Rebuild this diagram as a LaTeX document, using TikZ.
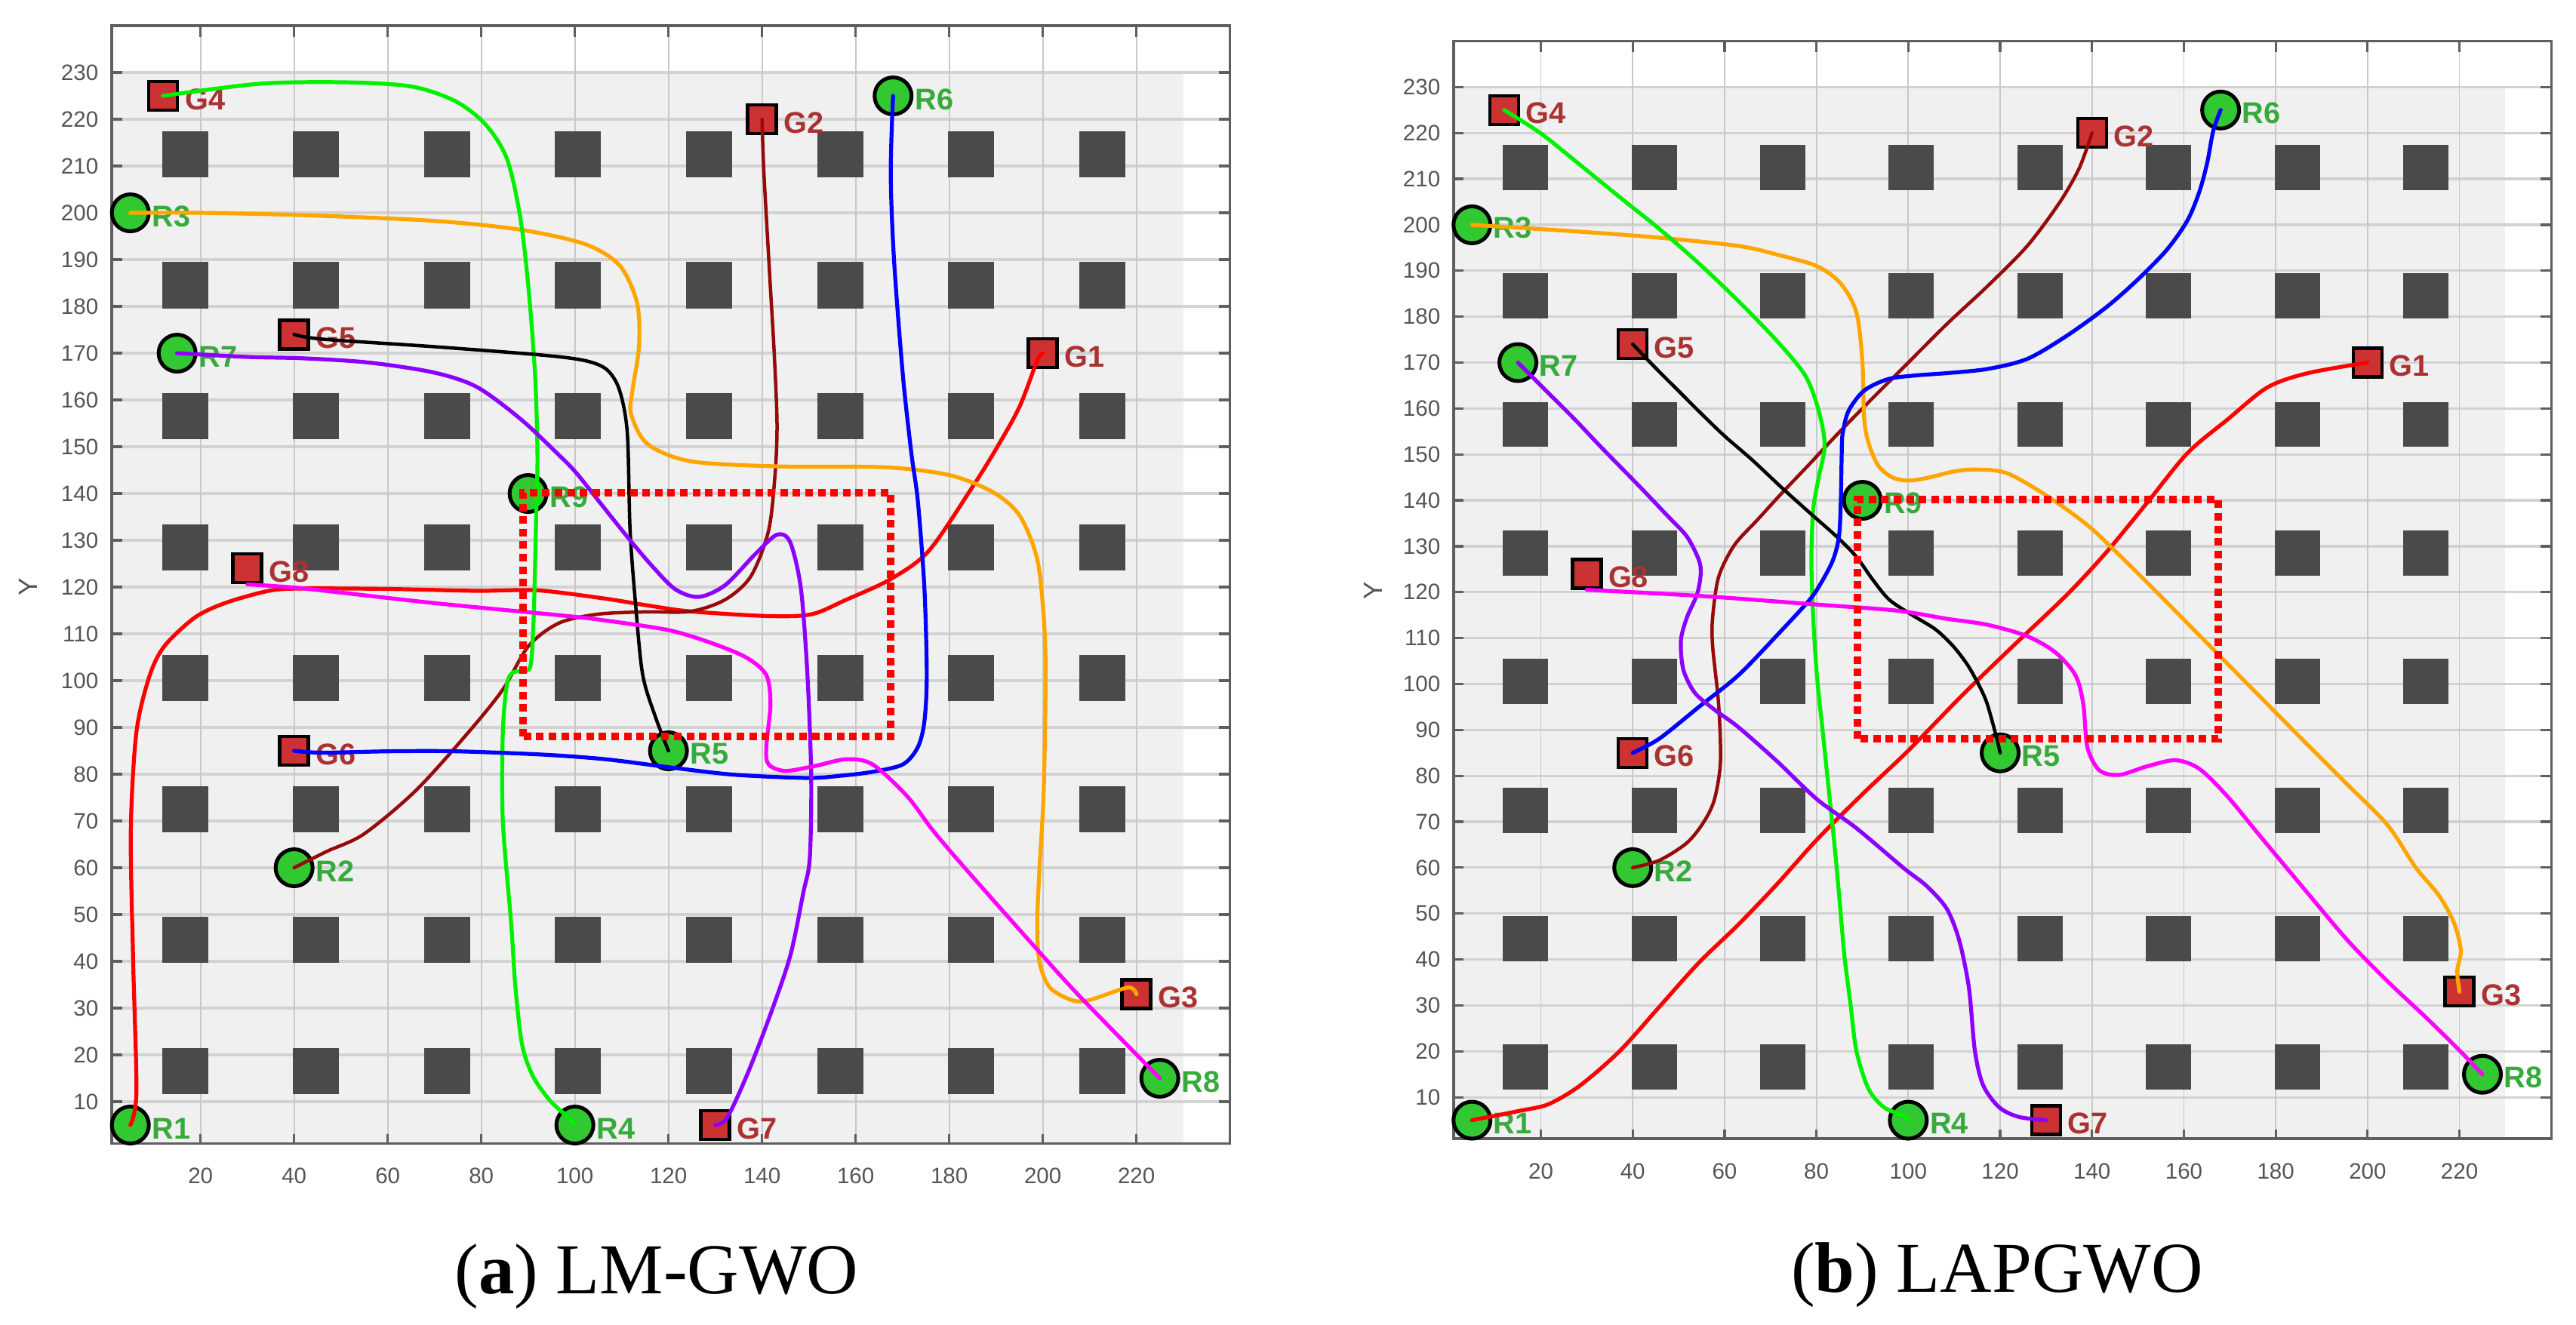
\documentclass[tikz,border=0pt]{standalone}
\usepackage{fontspec}
\setmainfont{Liberation Serif}
\newfontfamily\arialf{Liberation Sans}
\definecolor{rfill}{RGB}{50,200,50}
\definecolor{gfill}{RGB}{205,50,50}
\definecolor{rtext}{RGB}{55,170,60}
\definecolor{gtext}{RGB}{170,50,50}
\definecolor{obstc}{RGB}{74,74,74}
\definecolor{bgc}{RGB}{240,240,240}
\definecolor{gridc}{RGB}{210,210,210}
\definecolor{gridvc}{RGB}{200,200,200}
\definecolor{axc}{RGB}{95,95,95}
\definecolor{tickc}{RGB}{85,85,85}
\definecolor{corange}{RGB}{255,165,0}
\definecolor{cgreen}{RGB}{0,240,0}
\definecolor{cmaroon}{RGB}{150,10,10}
\definecolor{cpurple}{RGB}{140,0,255}
\definecolor{cmagenta}{RGB}{255,0,255}
\newcommand\plotbase[1]{%
  \fill[bgc] (1,1) rectangle (230,230);
  \foreach \yy in {10,20,...,230} \draw[gridh] (1,\yy) -- (240,\yy);
  \foreach \xx in {20,40,...,220} \draw[gridv] (\xx,1) -- (\xx,240);
  \foreach \i in {0,...,7} \foreach \j in {0,...,7}
    \fill[obst] ({11.75+28*\i},{11.6+28*\j}) rectangle ++(9.85,9.85);
  \foreach \yy in {10,20,...,230} {
    \draw[axisline] (1,\yy) -- (3.2,\yy);
    \draw[axisline] (240,\yy) -- (237.6,\yy);
    \node[ticklab, anchor=east] at ([xshift=-0.17cm]1,\yy) {\yy};
  }
  \foreach \xx in {20,40,...,220} {
    \draw[axisline] (\xx,1) -- (\xx,3.0);
    \draw[axisline] (\xx,240) -- (\xx,237.6);
    \node[ticklab] at ([yshift=-0.43cm]\xx,1) {\xx};
  }
  \draw[axisline] (1,1) rectangle (240,240);
  \foreach \n/\x/\y in {1/5/5,2/40/60,3/5/200,4/100/5,5/120/85,6/168/225,7/15/170,8/225/15,9/90/140} {
    \node[robot] (#1R\n) at (\x,\y) {};
    \node[rlab] (#1RL\n) at ({\x+4.6},{\y-0.7}) {R\n};
  }
  \foreach \n/\x/\y in {1/200/170,2/140/220,3/220/33,4/12/225,5/40/174,6/40/85,7/130/5,8/30/124} {
    \node[goal] (#1G\n) at (\x,\y) {};
    \node[glab] (#1GL\n) at ({\x+4.6},{\y-0.7}) {G\n};
  }
}
\begin{document}
\begin{tikzpicture}[
  robot/.style={circle, draw=black, line width=0.05cm, fill=rfill, minimum size=0.49cm, inner sep=0pt},
  goal/.style={rectangle, draw=black, line width=0.045cm, fill=gfill, minimum size=0.38cm, inner sep=0pt},
  rlab/.style={text=rtext, font=\arialf\bfseries\fontsize{11.3}{13}\selectfont, inner sep=0pt, anchor=west},
  glab/.style={text=gtext, font=\arialf\bfseries\fontsize{11.3}{13}\selectfont, inner sep=0pt, anchor=west},
  obst/.style={fill=obstc},
  gridh/.style={draw=gridc, line width=0.032cm},
  gridv/.style={draw=gridvc, line width=0.018cm},
  axisline/.style={draw=axc, line width=0.032cm},
  ticklab/.style={text=tickc, font=\arialf\fontsize{8.4}{10}\selectfont, inner sep=0pt},
  trail/.style={line width=0.052cm, line cap=round, line join=round},
  thintrail/.style={line width=0.045cm, line cap=round, line join=round},
  zone/.style={draw=red, line width=0.1cm, dash pattern=on 0.1cm off 0.066cm},
  capt/.style={font=\fontsize{27}{32}\selectfont, inner sep=0pt, anchor=base},
  axlab/.style={text=tickc, font=\arialf\fontsize{10}{12}\selectfont, inner sep=0pt, rotate=90},
]
\fill[white] (0,0) rectangle (34.13,17.55);
\useasboundingbox (0,0) rectangle (34.13,17.55);

% ---------------- plot (a)
\begin{scope}[shift={(1.417cm,2.33cm)}, x=0.062cm, y=0.062cm]
\plotbase{a}
\draw[trail, red] plot[smooth, tension=0.5] coordinates {(aR1.center) (6.3,12) (5.6,40) (5.1,68) (6.3,89) (9.1,101) (12.3,107.4) (18.8,113.5) (25.3,116.6) (34.6,119.2) (42,119.7) (60,119.6) (79,119.2) (92,119.3) (106,117.6) (116,116) (124.7,114.8) (141.4,113.8) (150.6,114.2) (158,117.3) (167.3,121.6) (175.6,127.7) (184.9,141.3) (190,149.5) (195,158.5) (198.8,168.4) (aG1.center)};
\draw[thintrail, cmaroon] plot[smooth, tension=0.5] coordinates {(aR2.center) (47,63.5) (54.9,67.2) (66,76.5) (77.2,88.9) (84.6,98.1) (90.1,107.4) (96.6,112.3) (104.9,114.2) (115,114.7) (124.7,114.8) (132.1,117.3) (137.6,122.3) (141.4,132.1) (142.8,144.4) (143.2,155) (142.6,170) (141.8,183.8) (140.4,208.5) (aG2.center)};
\draw[trail, corange] plot[smooth, tension=0.5] coordinates {(aR3.center) (20,200) (42,199.5) (69.7,198.3) (88.3,196.4) (102.2,193.3) (109.6,188.7) (113.3,180.7) (113.7,171.4) (112.3,162) (112,157) (115.5,150.6) (124.7,146.9) (143.2,145.8) (166.4,145.6) (180.2,143.9) (189.5,140.2) (195.1,135.2) (198.8,126) (200.2,113.5) (200.6,101.2) (200.2,76.5) (199.3,60) (198.8,47.9) (199.3,39.8) (201.5,34.4) (206.2,31.7) (209.9,31.7) (218.2,34.4) (aG3.center)};
\draw[trail, cgreen] plot[smooth, tension=0.5] coordinates {(aG4.center) (32.7,227.6) (51.2,227.9) (65.1,227) (74.4,223.9) (80.9,218.9) (85.5,211.5) (88.3,199.2) (90.1,183.8) (91.5,165.2) (92,148.7) (91.8,138.3) (91.2,113.5) (90.6,103.7) (89.6,102.1) (86.9,101.8) (85.5,99.3) (84.6,88.9) (84.6,70) (86.4,47.9) (87.3,34.4) (88.7,22.3) (91,15.5) (94.7,10.2) (98.4,6.8) (aR4.center)};
\draw[thintrail, black] plot[smooth, tension=0.5] coordinates {(aG5.center) (46,173) (69.7,171.4) (92.9,169.6) (102.2,168.4) (106.8,166.5) (109.5,162.2) (111.2,153) (111.8,132.1) (113,116) (114.5,101.2) (117.3,92) (aR5.center)};
\draw[trail, blue] plot[smooth, tension=0.5] coordinates {(aR6.center) (167.5,208.5) (168.2,190) (170.1,165.2) (171.9,148.7) (173.3,138.3) (174.7,119.7) (175.2,101.2) (174.7,91.3) (173.3,85.8) (170.1,82.1) (163.6,80.5) (157.1,79.7) (149.7,79.2) (133.9,79.9) (120,81.5) (106.5,83.2) (92.9,84.2) (74.4,84.9) (60.5,84.9) (46,84.6) (aG6.center)};
\draw[trail, cpurple] plot[smooth, tension=0.5] coordinates {(aR7.center) (30,169.2) (42,168.9) (55.9,168) (69.7,165.9) (79,162.8) (88.3,156) (96.1,148.7) (100.3,144.4) (106.2,137) (111.4,130.5) (116.5,124.5) (121.5,119.5) (126.5,117.9) (132.1,120.4) (138.6,127.1) (143.2,131.2) (146,129.6) (148.3,119.7) (149.7,101.2) (150.5,79.6) (150.2,62) (148.8,54.6) (146,41.1) (141.4,27.6) (136.7,15.5) (132.5,6.5) (aG7.center)};
\draw[trail, cmagenta] plot[smooth, tension=0.5] coordinates {(aG8.south) (42,119.7) (69.7,116.6) (97.5,113.9) (106.2,112.9) (120,110.8) (129.3,108) (136.7,104.9) (140.9,101.2) (141.8,95) (140.9,85.8) (141.4,82.1) (145,80.7) (151.5,81.8) (158,83.2) (163.6,82.1) (171,75.3) (176.5,68) (183.3,60) (198.8,42.5) (208,32.4) (aR8.center)};
\draw[zone] (89,88) rectangle (167.5,140.2);
\end{scope}
\node[axlab] (aY) at (0.37,9.77) {Y};
\node[capt] (capa) at (8.70,0.41) {(\textbf{a}) LM-GWO};

% ---------------- plot (b)
\begin{scope}[shift={(19.198cm,2.40cm)}, x=0.06085cm, y=0.06085cm]
\plotbase{b}
\draw[trail, red] plot[smooth, tension=0.5] coordinates {(bR1.center) (15.7,7.1) (21.7,8.5) (28.6,12.6) (37.2,20.1) (45.8,29.7) (54.4,39.3) (63,47.6) (71.5,56.5) (80,66) (90,76) (100,85.5) (111.7,97.5) (122,107.5) (134.6,119.5) (143.3,128.9) (152.1,139.6) (160.8,150.3) (169.5,157.6) (178.2,164.6) (187,167.7) (bG1.center)};
\draw[thintrail, cmaroon] plot[smooth, tension=0.5] coordinates {(bR2.center) (45.8,61.6) (51.8,65.4) (55.5,70) (57.8,74.9) (59.1,83.1) (58.7,95.6) (57.4,108.2) (57.4,114.5) (58.7,123.3) (62.1,130.2) (67.2,135.8) (72.4,141.5) (78.4,147.8) (83.6,153.4) (90,160) (100,170) (108.4,178.4) (117.2,186.6) (125.9,195.4) (132.9,204.8) (137.2,212.3) (bG2.center)};
\draw[trail, corange] plot[smooth, tension=0.5] coordinates {(bR3.center) (28.6,198.5) (45.8,197.2) (63,195.4) (71.5,193.5) (80.1,191) (85.3,187.2) (88.7,180.9) (90,170.2) (90.4,157.6) (91.5,152) (93.5,147.5) (96.5,145) (100,144.3) (104.2,144.9) (110,146.3) (115,146.7) (121.5,145.9) (130.3,140.9) (139,134.6) (145.1,128.9) (152.1,122) (160.8,113.2) (169.5,104.4) (178.2,95.6) (186.9,86.8) (195.7,78) (204.4,69.2) (210.5,60) (215.5,54) (218.8,48) (220.3,42) (219.5,37.5) (bG3.center)};
\draw[trail, cgreen] plot[smooth, tension=0.5] coordinates {(bG4.center) (20,219.9) (28.6,213) (37.2,206) (45.8,199.1) (54.4,191.6) (63,183.4) (71.5,174.6) (77.6,167.1) (80.5,159.5) (81.8,152) (80.5,145) (79.3,138) (78.9,127) (79.3,114.5) (80.1,101.9) (81.4,89.3) (82.7,76.8) (84,64.2) (84.9,54.4) (86.1,40.7) (87.4,30.4) (88.7,20.1) (91.3,11.9) (94.7,7.8) (99,6) (bR4.center)};
\draw[thintrail, black] plot[smooth, tension=0.5] coordinates {(bG5.center) (45,168.8) (50,163.8) (55,158.8) (60,154) (66,148.8) (72.4,142.8) (78.4,137.4) (84.4,132.1) (88.7,127.7) (92.2,122.8) (95.8,118.4) (100.7,115.1) (105.9,111.9) (109.8,108.2) (113,104) (115.5,99.5) (117.2,95.6) (119.3,88) (bR5.center)};
\draw[trail, blue] plot[smooth, tension=0.5] coordinates {(bR6.center) (166.4,220.5) (165.1,213.6) (163.4,207.3) (160.8,201) (156.4,194.7) (150.3,188.4) (143.3,182.2) (134.6,175.9) (125.9,170.8) (117.2,168.6) (108.4,167.7) (101.6,167.2) (95.6,166.4) (90.4,163.9) (87,159.5) (85.7,154.5) (85.5,150) (85.3,139.6) (84.9,132.1) (83.6,127) (81,122) (78.4,118.2) (71.5,110.7) (63,101.9) (54.4,95) (45.8,88.1) (bG6.center)};
\draw[trail, cpurple] plot[smooth, tension=0.5] coordinates {(bR7.center) (20,165) (27.5,157.5) (32.9,151.8) (41.5,143) (47.5,136.7) (51.8,132.1) (54.4,127) (54.8,123.9) (54,119.5) (51.8,114.5) (50.5,109.5) (51,103.2) (53.5,98.1) (57.8,94.4) (63,90.6) (71.5,83.1) (80.1,74.9) (88.7,68.6) (99,59.9) (104,56) (108.4,51) (111.1,44.1) (113.2,33.8) (114.5,20.1) (116.3,12.6) (119.8,7.8) (124.1,5.7) (bG7.center)};
\draw[trail, cmagenta] plot[smooth, tension=0.5] coordinates {(bG8.south) (54.4,119.2) (80.1,117.3) (97.3,116) (108.4,114.2) (117.2,112.9) (125.9,110.4) (132,106.9) (136.4,101.9) (138.1,95.6) (139,86.2) (141.6,81.2) (145.9,80.2) (152.1,82.1) (158.2,83.4) (163.4,81.5) (169.5,75.5) (176.5,67) (187,54.4) (195.7,44.1) (204.4,35.2) (213.1,27) (220.1,20.1) (bR8.center)};
\draw[zone] (89,88) rectangle (167.5,140.2);
\end{scope}
\node[axlab] (bY) at (18.19,9.72) {Y};
\node[capt] (capb) at (26.46,0.43) {(\textbf{b}) LAPGWO};
\end{tikzpicture}
\end{document}
